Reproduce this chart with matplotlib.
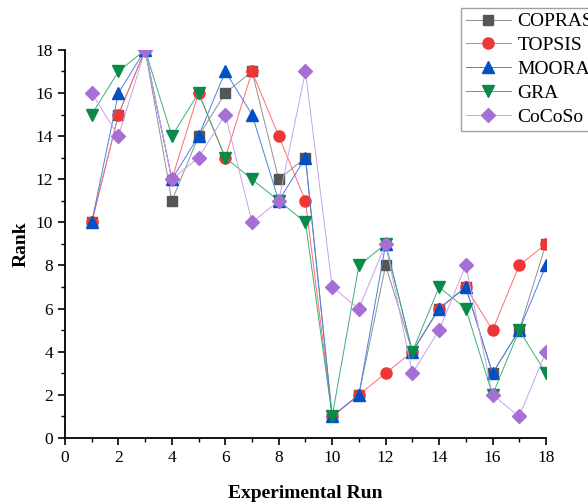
import numpy as np
import matplotlib.pyplot as plt
from matplotlib.ticker import MultipleLocator

plt.rcParams['font.family'] = ['Liberation Serif', 'DejaVu Serif']

runs = list(range(1, 19))
copras = [10, 15, 18, 11, 14, 16, 17, 12, 13, 1, 2, 8, 4, 6, 7, 3, 5, 9]
topsis = [10, 15, 18, 12, 16, 13, 17, 14, 11, 1, 2, 3, 4, 6, 7, 5, 8, 9]
moora = [10, 16, 18, 12, 14, 17, 15, 11, 13, 1, 2, 9, 4, 6, 7, 3, 5, 8]
gra = [15, 17, 18, 14, 16, 13, 12, 11, 10, 1, 8, 9, 4, 7, 6, 2, 5, 3]
cocoso = [16, 14, 18, 12, 13, 15, 10, 11, 17, 7, 6, 9, 3, 5, 8, 2, 1, 4]

fig = plt.figure(figsize=(5.88, 5.04), dpi=100)
ax = fig.add_axes([0.1105, 0.131, 0.818, 0.770])

ax.plot(runs, copras, color='#909090', lw=0.7, marker='s', ms=7,
        mfc='#555555', mec='#555555', label='COPRAS')
ax.plot(runs, topsis, color='#ff6a6a', lw=0.7, marker='o', ms=8,
        mfc='#f03535', mec='#f03535', label='TOPSIS')
ax.plot(runs, moora, color='#4a82e0', lw=0.7, marker='^', ms=8.5,
        mfc='#0050c8', mec='#0050c8', label='MOORA')
ax.plot(runs, gra, color='#3ab078', lw=0.7, marker='v', ms=8.5,
        mfc='#0a8a4a', mec='#0a8a4a', label='GRA')
ax.plot(runs, cocoso, color='#c8a0e8', lw=0.7, marker='D', ms=7,
        mfc='#a66fd6', mec='#a66fd6', label='CoCoSo')

ax.set_xlim(0, 18)
ax.set_ylim(0, 18)
ax.xaxis.set_major_locator(MultipleLocator(2))
ax.xaxis.set_minor_locator(MultipleLocator(1))
ax.yaxis.set_major_locator(MultipleLocator(2))
ax.yaxis.set_minor_locator(MultipleLocator(1))
ax.tick_params(which='major', direction='out', length=5, width=1.2, labelsize=12.5)
ax.tick_params(which='minor', direction='out', length=3, width=1.0)
ax.spines['top'].set_visible(False)
ax.spines['right'].set_visible(False)
ax.spines['left'].set_linewidth(1.3)
ax.spines['bottom'].set_linewidth(1.3)

ax.set_xlabel('Experimental Run', fontsize=14, fontweight='bold', labelpad=14)
ax.set_ylabel('Rank', fontsize=14, fontweight='bold', labelpad=4)

leg = fig.legend(loc='upper left', bbox_to_anchor=(461 / 588, 1 - 8 / 504),
                 borderaxespad=0, fontsize=14,
                 frameon=True, fancybox=False, edgecolor='#888888',
                 handlelength=2.3, borderpad=0.25, labelspacing=0.32,
                 handletextpad=0.35)
leg.get_frame().set_linewidth(1.0)

fig.savefig('out.png', dpi=100)
